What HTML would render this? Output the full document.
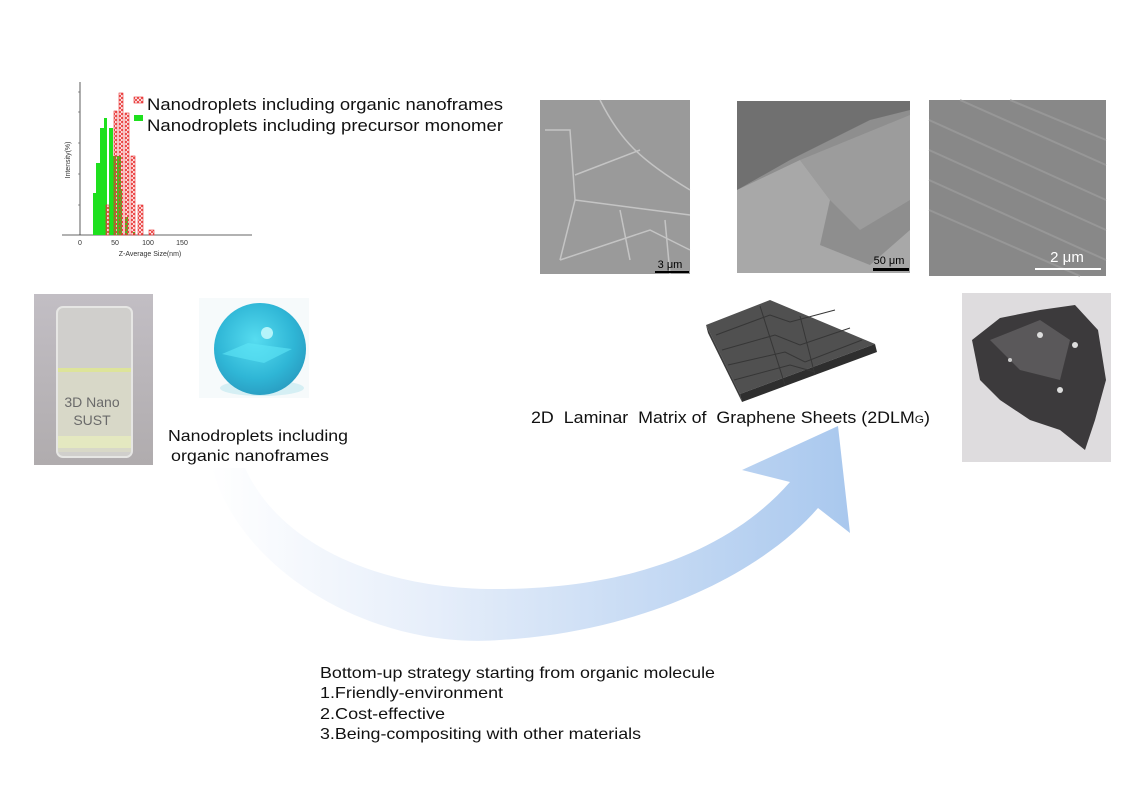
<!DOCTYPE html>
<html><head><meta charset="utf-8"><style>
body{margin:0;background:#fff;}
svg{display:block;font-family:"Liberation Sans",Arial,sans-serif;}
</style></head><body>
<svg width="1144" height="788" viewBox="0 0 1144 788" xmlns="http://www.w3.org/2000/svg">
<defs>
<linearGradient id="ag" x1="210" y1="0" x2="850" y2="0" gradientUnits="userSpaceOnUse">
<stop offset="0" stop-color="#ffffff"/><stop offset="0.35" stop-color="#e6eefa"/><stop offset="1" stop-color="#a9c8ee"/></linearGradient>
<radialGradient id="sp" cx="0.45" cy="0.4" r="0.6"><stop offset="0" stop-color="#56dcf0"/><stop offset="0.7" stop-color="#2fb6d6"/><stop offset="1" stop-color="#2aa0c4"/></radialGradient>
<linearGradient id="vial" x1="0" y1="0" x2="0" y2="1"><stop offset="0" stop-color="#c2bec4"/><stop offset="1" stop-color="#b0acae"/></linearGradient>
<pattern id="hatch" width="4" height="4" patternUnits="userSpaceOnUse"><path d="M0 0L4 4M4 0L0 4" stroke="#e83030" stroke-width="0.8"/></pattern>
</defs>

<g>
<line x1="80" y1="82" x2="80" y2="235" stroke="#333" stroke-width="0.8"/>
<line x1="62" y1="235" x2="252" y2="235" stroke="#333" stroke-width="0.8"/>
<g stroke="#555" stroke-width="0.6">
<line x1="78" y1="92" x2="80" y2="92"/><line x1="78" y1="112" x2="80" y2="112"/><line x1="78" y1="143" x2="80" y2="143"/><line x1="78" y1="174" x2="80" y2="174"/><line x1="78" y1="205" x2="80" y2="205"/>
</g>
<g fill="#1ee01e">
<rect x="93" y="193" width="4" height="42"/><rect x="96" y="163" width="4" height="72"/><rect x="100" y="128" width="4" height="107"/><rect x="104" y="118" width="3" height="117"/><rect x="109" y="128" width="4" height="107"/><rect x="112" y="156" width="4" height="79"/><rect x="117" y="156" width="4" height="79"/><rect x="119" y="189" width="3" height="46"/><rect x="125" y="217" width="3" height="18"/><rect x="133" y="232" width="2" height="3"/>
</g>
<g fill="url(#hatch)" stroke="#e83030" stroke-width="0.6">
<rect x="106" y="205" width="3" height="30"/><rect x="114" y="111" width="3" height="124"/><rect x="119" y="93" width="4" height="142"/><rect x="125" y="113" width="4" height="122"/><rect x="131" y="156" width="4" height="79"/><rect x="138" y="205" width="5" height="30"/><rect x="149" y="230" width="5" height="5"/>
</g>
<g font-size="7" fill="#333" text-anchor="middle">
<text x="80" y="245">0</text><text x="115" y="245">50</text><text x="148" y="245">100</text><text x="182" y="245">150</text>
<text x="150" y="256">Z-Average Size(nm)</text>
<text transform="translate(70,160) rotate(-90)">Intensity(%)</text>
</g>
<rect x="134" y="97" width="9" height="6" fill="url(#hatch)" stroke="#e83030" stroke-width="0.6"/>
<rect x="134" y="115" width="9" height="6" fill="#1ee01e"/>
<text x="147" y="110" font-size="17" fill="#111" textLength="356" lengthAdjust="spacingAndGlyphs">Nanodroplets including organic nanoframes</text>
<text x="147" y="131" font-size="17" fill="#111" textLength="356" lengthAdjust="spacingAndGlyphs">Nanodroplets including precursor monomer</text>
</g>

<rect x="34" y="294" width="119" height="171" fill="url(#vial)"/>
<rect x="57" y="307" width="75" height="150" rx="6" fill="#d0cfcc" stroke="#e6e6e4" stroke-width="2"/>
<rect x="58" y="368" width="73" height="4" fill="#dde49a"/>
<rect x="58" y="372" width="73" height="80" fill="#d8d8c8"/>
<rect x="58" y="436" width="73" height="12" fill="#e4e8c0"/>
<text x="92" y="407" font-size="14" fill="#6a6a6a" text-anchor="middle">3D Nano</text>
<text x="92" y="425" font-size="14" fill="#6a6a6a" text-anchor="middle">SUST</text>

<rect x="199" y="298" width="110" height="100" fill="#f6fafb"/>
<ellipse cx="262" cy="388" rx="42" ry="8" fill="#bfe8f0" opacity="0.6"/>
<circle cx="260" cy="349" r="46" fill="url(#sp)"/>
<path d="M222 354 L248 343 L292 349 L264 363 Z" fill="#5fe6f6" opacity="0.6"/>
<circle cx="267" cy="333" r="6" fill="#b4f4fa"/>

<path d="M212 468 C240 570 370 650 500 640 C640 632 760 575 818 508 L850 533 L838 426 L742 470 L790 482 C735 545 640 588 500 589 C380 590 280 545 245 468 Z" fill="url(#ag)"/>

<text x="168" y="441" font-size="16" fill="#111" textLength="180" lengthAdjust="spacingAndGlyphs">Nanodroplets including</text>
<text x="171" y="461" font-size="16" fill="#111" textLength="158" lengthAdjust="spacingAndGlyphs">organic nanoframes</text>

<rect x="540" y="100" width="150" height="174" fill="#9a9a9a"/>
<g stroke="#cfcfcf" stroke-width="1.5" fill="none" opacity="0.8">
<path d="M600 100 C620 140 640 160 690 190"/><path d="M545 130 L570 130 L575 200 L560 260"/><path d="M575 175 L640 150"/><path d="M575 200 L690 215"/><path d="M560 260 L650 230 L690 250"/><path d="M620 210 L630 260"/><path d="M665 220 L670 274"/>
</g>
<rect x="655" y="271" width="34" height="2" fill="#000"/>
<text x="670" y="268" font-size="11" fill="#000" text-anchor="middle">3 μm</text>

<rect x="737" y="101" width="173" height="172" fill="#8e8e8e"/>
<path d="M737 101 L910 101 L910 110 L870 120 L790 160 L737 190 Z" fill="#707070"/>
<path d="M737 190 L800 160 L830 200 L820 245 L870 265 L910 230 L910 273 L737 273 Z" fill="#a8a8a8"/>
<path d="M800 160 L910 115 L910 200 L860 230 L830 200 Z" fill="#9c9c9c"/>
<rect x="873" y="268" width="36" height="3" fill="#000"/>
<text x="889" y="264" font-size="11" fill="#000" text-anchor="middle">50 μm</text>

<rect x="929" y="100" width="177" height="176" fill="#888"/>
<g stroke="#9e9e9e" stroke-width="2" opacity="0.7">
<line x1="929" y1="120" x2="1106" y2="200"/><line x1="929" y1="150" x2="1106" y2="230"/><line x1="929" y1="180" x2="1106" y2="260"/><line x1="929" y1="210" x2="1080" y2="276"/><line x1="960" y1="100" x2="1106" y2="165"/><line x1="1010" y1="100" x2="1106" y2="140"/>
</g>
<rect x="1035" y="268" width="66" height="2" fill="#fff"/>
<text x="1067" y="262" font-size="15" fill="#fff" text-anchor="middle">2 μm</text>

<!-- graphene sheet -->
<path d="M706 325 L770 300 L875 344 L740 394 Z" fill="#505050"/>
<path d="M740 394 L875 344 L877 352 L742 402 Z" fill="#2e2e2e"/>
<path d="M706 325 L740 394 L742 402 L708 333 Z" fill="#3a3a3a"/>
<g stroke="#363636" stroke-width="1" fill="none">
<path d="M716 335 L770 315 L790 322 L835 310"/><path d="M722 350 L775 335 L800 345 L850 328"/><path d="M728 365 L785 352 L805 362 L862 340"/><path d="M734 380 L790 365 L815 372"/><path d="M760 306 L785 385"/><path d="M800 316 L815 375"/>
</g>
<text x="531" y="423" font-size="16.5" fill="#111" textLength="399" lengthAdjust="spacingAndGlyphs" xml:space="preserve">2D  Laminar  Matrix of  Graphene Sheets (2DLM<tspan font-size="11">G</tspan>)</text>

<rect x="962" y="293" width="149" height="169" fill="#dedcde"/>
<path d="M972 340 L1000 318 L1040 310 L1075 305 L1098 330 L1106 380 L1095 420 L1085 450 L1060 430 L1030 420 L1000 400 L980 380 Z" fill="#3c3a3c"/>
<path d="M990 340 L1040 320 L1070 340 L1060 380 L1020 370 Z" fill="#5a585a"/>
<circle cx="1040" cy="335" r="3" fill="#ddd"/><circle cx="1075" cy="345" r="3" fill="#ddd"/><circle cx="1010" cy="360" r="2" fill="#ccc"/><circle cx="1060" cy="390" r="3" fill="#ddd"/>

<g font-size="16" fill="#111">
<text x="320" y="678" textLength="395" lengthAdjust="spacingAndGlyphs">Bottom-up strategy starting from organic molecule</text>
<text x="320" y="698" textLength="183" lengthAdjust="spacingAndGlyphs">1.Friendly-environment</text>
<text x="320" y="719" textLength="125" lengthAdjust="spacingAndGlyphs">2.Cost-effective</text>
<text x="320" y="739" textLength="321" lengthAdjust="spacingAndGlyphs">3.Being-compositing with other materials</text>
</g>
</svg>
</body></html>
